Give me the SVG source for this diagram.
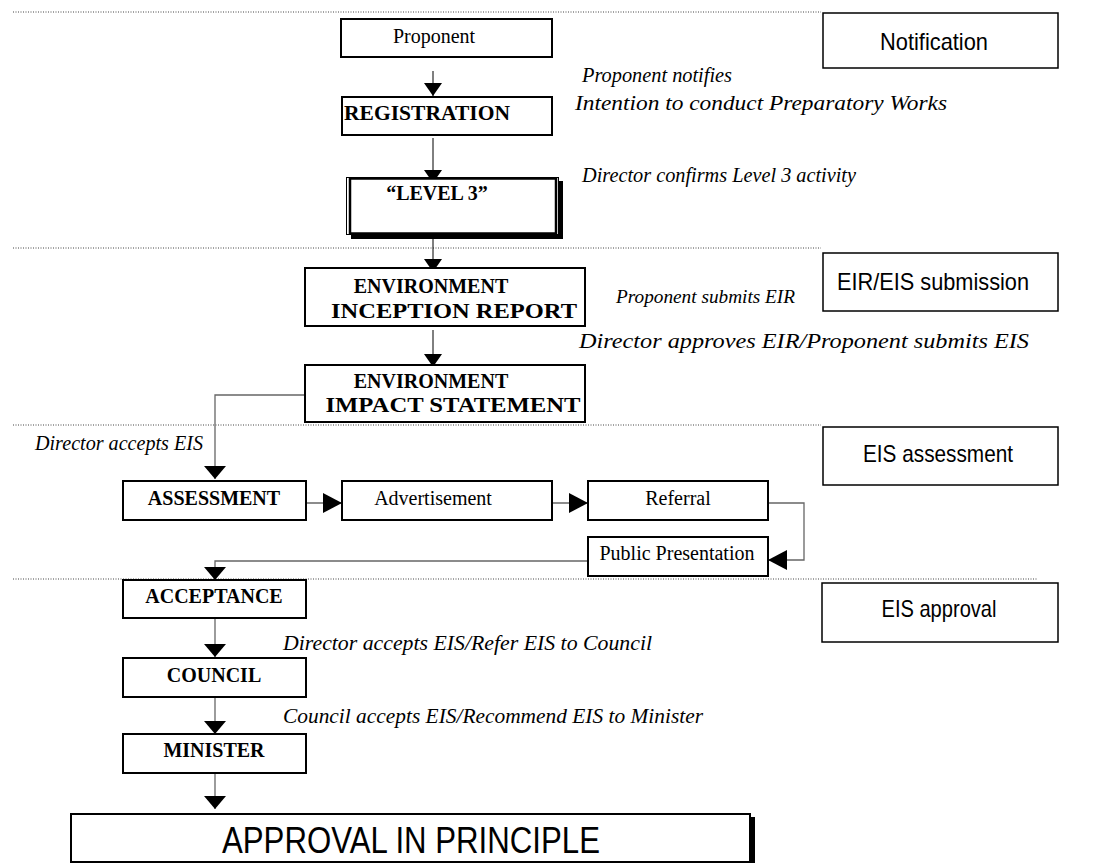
<svg xmlns="http://www.w3.org/2000/svg" width="1096" height="865" viewBox="0 0 1096 865">
<style>
.bg{fill:#fff}
.box{fill:#fff;stroke:#000;stroke-width:2}
.phase{fill:#fff;stroke:#000;stroke-width:1.5}
.sep{stroke:#444;stroke-width:1;stroke-dasharray:1 1.5;fill:none}
.c1{stroke:#000;stroke-width:1;fill:none}
.c2{stroke:#666;stroke-width:1.3;fill:none}
.t{font-family:"Liberation Serif","Times New Roman",serif;font-size:20px;fill:#000;text-anchor:middle}
.b{font-weight:bold}
.i{font-family:"Liberation Serif","Times New Roman",serif;font-size:20px;font-style:italic;fill:#000}
.s{font-family:"Liberation Sans",Arial,sans-serif;font-size:24px;fill:#000;text-anchor:middle}
</style>
<defs>
<marker id="av" viewBox="0 0 13 18" markerWidth="13" markerHeight="18" refX="13" refY="9" orient="auto" markerUnits="userSpaceOnUse"><path d="M0,0 L13,9 L0,18 z" fill="#000"/></marker>
<marker id="aw" viewBox="0 0 13 22" markerWidth="13" markerHeight="22" refX="13" refY="11" orient="auto" markerUnits="userSpaceOnUse"><path d="M0,0 L13,11 L0,22 z" fill="#000"/></marker>
<marker id="ah" viewBox="0 0 19 20" markerWidth="19" markerHeight="20" refX="19" refY="10" orient="auto" markerUnits="userSpaceOnUse"><path d="M0,0 L19,10 L0,20 z" fill="#000"/></marker>
</defs>
<rect class="bg" x="0" y="0" width="1096" height="865"/>

<g id="separators">
<line class="sep" x1="13" y1="12" x2="821" y2="12"/>
<line class="sep" x1="13" y1="248" x2="821" y2="248"/>
<line class="sep" x1="13" y1="425" x2="821" y2="425"/>
<line class="sep" x1="13" y1="579" x2="1037" y2="579"/>
</g>

<g id="connectors">
<line class="c1" x1="433" y1="71" x2="433" y2="96" marker-end="url(#av)"/>
<line class="c1" x1="433" y1="138" x2="433" y2="183" marker-end="url(#av)"/>
<line class="c1" x1="433" y1="239" x2="433" y2="272" marker-end="url(#av)"/>
<line class="c1" x1="433" y1="330" x2="433" y2="367" marker-end="url(#av)"/>
<path class="c2" d="M305,395 H215 V479" marker-end="url(#aw)"/>
<path class="c2" d="M306,503 H342" marker-end="url(#ah)"/>
<path class="c2" d="M552,503 H588" marker-end="url(#ah)"/>
<path class="c2" d="M768,503 H804 V560 H768" marker-end="url(#ah)"/>
<path class="c2" d="M588,561 H215 V580" marker-end="url(#aw)"/>
<path class="c2" d="M215,618 V657" marker-end="url(#aw)"/>
<path class="c2" d="M215,697 V734" marker-end="url(#aw)"/>
<path class="c2" d="M215,773 V809" marker-end="url(#aw)"/>
</g>

<g id="notification">
<rect class="phase" x="823" y="13" width="235" height="55"/>
<text class="s" x="934" y="50" textLength="108" lengthAdjust="spacingAndGlyphs">Notification</text>
</g>
<g id="eir-eis-submission">
<rect class="phase" x="823" y="253" width="235" height="58"/>
<text class="s" x="933" y="290" textLength="192" lengthAdjust="spacingAndGlyphs">EIR/EIS submission</text>
</g>
<g id="eis-assessment">
<rect class="phase" x="823" y="427" width="235" height="58"/>
<text class="s" x="938" y="462" textLength="150" lengthAdjust="spacingAndGlyphs">EIS assessment</text>
</g>
<g id="eis-approval">
<rect class="phase" x="822" y="583" width="236" height="59"/>
<text class="s" x="939" y="617" textLength="115" lengthAdjust="spacingAndGlyphs">EIS approval</text>
</g>

<g id="proponent">
<rect class="box" x="341" y="19" width="211" height="38"/>
<text class="t" x="434" y="43">Proponent</text>
</g>
<g id="registration">
<rect class="box" x="342" y="97" width="210" height="38"/>
<text class="t b" x="427" y="120" textLength="166" lengthAdjust="spacingAndGlyphs">REGISTRATION</text>
</g>
<g id="level3">
<rect x="346.5" y="177.5" width="212" height="57" fill="#fff" stroke="#000" stroke-width="1"/>
<rect x="350" y="178.5" width="206" height="55" fill="none" stroke="#000" stroke-width="2.5"/>
<rect x="558" y="181" width="5" height="58" fill="#000"/>
<rect x="351" y="235" width="212" height="4" fill="#000"/>
<text class="t b" x="437" y="200">“LEVEL 3”</text>
</g>
<g id="eir">
<rect class="box" x="305" y="268" width="280" height="58"/>
<text class="t b" x="431" y="293">ENVIRONMENT</text>
<text class="t b" x="454" y="318" style="font-size:21px" textLength="246" lengthAdjust="spacingAndGlyphs">INCEPTION REPORT</text>
</g>
<g id="eis">
<rect class="box" x="305" y="365" width="280" height="57"/>
<text class="t b" x="431" y="388">ENVIRONMENT</text>
<text class="t b" x="453" y="412" style="font-size:21px" textLength="255" lengthAdjust="spacingAndGlyphs">IMPACT STATEMENT</text>
</g>
<g id="assessment">
<rect class="box" x="123" y="481" width="183" height="39"/>
<text class="t b" x="214" y="505">ASSESSMENT</text>
</g>
<g id="advertisement">
<rect class="box" x="342" y="481" width="210" height="39"/>
<text class="t" x="433" y="505">Advertisement</text>
</g>
<g id="referral">
<rect class="box" x="588" y="481" width="180" height="39"/>
<text class="t" x="678" y="505">Referral</text>
</g>
<g id="public-presentation">
<rect class="box" x="588" y="537" width="180" height="39"/>
<text class="t" x="677" y="560">Public Presentation</text>
</g>
<g id="acceptance">
<rect class="box" x="123" y="580" width="183" height="38"/>
<text class="t b" x="214" y="603">ACCEPTANCE</text>
</g>
<g id="council">
<rect class="box" x="123" y="658" width="183" height="39"/>
<text class="t b" x="214" y="682">COUNCIL</text>
</g>
<g id="minister">
<rect class="box" x="123" y="734" width="183" height="39"/>
<text class="t b" x="214" y="757">MINISTER</text>
</g>
<g id="approval">
<rect class="box" x="71" y="814" width="679" height="48"/>
<rect x="750" y="817" width="5" height="46" fill="#000"/>
<text class="s" x="411" y="853" style="font-size:36px" textLength="378" lengthAdjust="spacingAndGlyphs">APPROVAL IN PRINCIPLE</text>
</g>

<g id="labels">
<text class="i" x="582" y="82" textLength="150" lengthAdjust="spacingAndGlyphs">Proponent notifies</text>
<text class="i" x="575" y="110" style="font-size:22px" textLength="372" lengthAdjust="spacingAndGlyphs">Intention to conduct Preparatory Works</text>
<text class="i" x="582" y="182" textLength="274" lengthAdjust="spacingAndGlyphs">Director confirms Level 3 activity</text>
<text class="i" x="616" y="303" style="font-size:19.5px" textLength="179" lengthAdjust="spacingAndGlyphs">Proponent submits EIR</text>
<text class="i" x="579" y="348" style="font-size:21px" textLength="450" lengthAdjust="spacingAndGlyphs">Director approves EIR/Proponent submits EIS</text>
<text class="i" x="35" y="450" textLength="168" lengthAdjust="spacingAndGlyphs">Director accepts EIS</text>
<text class="i" x="283" y="650" style="font-size:21px" textLength="369" lengthAdjust="spacingAndGlyphs">Director accepts EIS/Refer EIS to Council</text>
<text class="i" x="283" y="723" style="font-size:21px" textLength="420" lengthAdjust="spacingAndGlyphs">Council accepts EIS/Recommend EIS to Minister</text>
</g>
</svg>
